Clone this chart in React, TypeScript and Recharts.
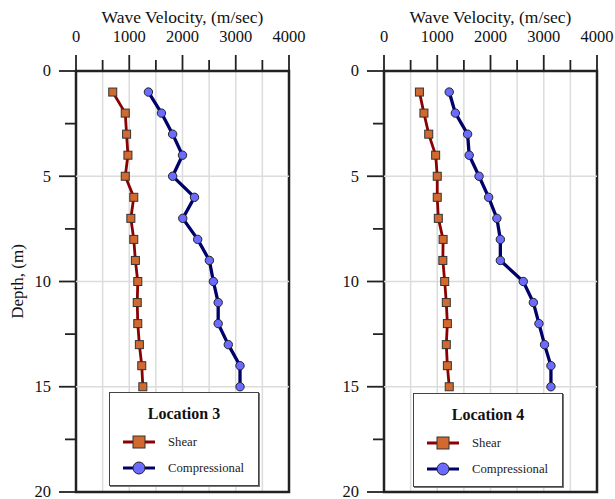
import React from 'react'
import {
  ScatterChart,
  Scatter,
  XAxis,
  YAxis,
  CartesianGrid,
  ReferenceLine,
  ReferenceArea,
} from 'recharts'

const FONT = 'Liberation Serif, Times New Roman, serif'

const depths = [1, 2, 3, 4, 5, 6, 7, 8, 9, 10, 11, 12, 13, 14, 15]

// Location 3
const shear3 = [690, 925, 950, 975, 925, 1085, 1030, 1085, 1115, 1160, 1150, 1160, 1190, 1235, 1255]
const comp3 = [1360, 1605, 1815, 2000, 1815, 2225, 2005, 2285, 2505, 2580, 2670, 2670, 2860, 3080, 3080]

// Location 4
const shear4 = [665, 750, 840, 970, 1000, 1000, 1020, 1110, 1105, 1140, 1170, 1190, 1170, 1190, 1225]
const comp4 = [1225, 1340, 1570, 1600, 1785, 1965, 2120, 2185, 2185, 2615, 2805, 2910, 3015, 3135, 3135]

const xTicks = [0, 500, 1000, 1500, 2000, 2500, 3000, 3500, 4000]
const yTicks = [0, 2.5, 5, 7.5, 10, 12.5, 15, 17.5, 20]
const gridDepths = [5, 10, 15]

const SHEAR_LINE = '#8b0000'
const SHEAR_FILL = '#d2692e'
const COMP_LINE = '#00006b'
const COMP_FILL = '#6b6bff'

function XTick({ x, y, payload }: any) {
  const major = payload.value % 1000 === 0
  return (
    <g>
      <line x1={x} x2={x} y1={y} y2={y - (major ? 16 : 11)} stroke="#222" strokeWidth={1.8} />
      {major && (
        <text x={x} y={y - 29} textAnchor="middle" fontSize={16.5} fontFamily={FONT} fill="#111">
          {payload.value}
        </text>
      )}
    </g>
  )
}

function YTick({ x, y, payload }: any) {
  const major = payload.value % 5 === 0
  return (
    <g>
      <line x1={x} x2={x - (major ? 17 : 11)} y1={y} y2={y} stroke="#222" strokeWidth={1.8} />
      {major && (
        <text x={x - 25} y={y} dy="0.33em" textAnchor="end" fontSize={16.5} fontFamily={FONT} fill="#111">
          {payload.value}
        </text>
      )}
    </g>
  )
}

const square = (props: any) => (
  <rect x={props.cx - 4} y={props.cy - 4} width={8} height={8} fill={SHEAR_FILL} stroke="#333" strokeWidth={1} />
)
const circle = (props: any) => (
  <circle cx={props.cx} cy={props.cy} r={4.2} fill={COMP_FILL} stroke="#222" strokeWidth={1} />
)

function LegendBox({ title, left, top }: { title: string; left: number; top: number }) {
  const row = (y: number, label: string, kind: 'sq' | 'ci') => (
    <div style={{ position: 'absolute', left: 0, top: y - 10, height: 20, width: 150 }}>
      <svg width={50} height={20} style={{ position: 'absolute', left: 11, top: 0 }}>
        <line x1={2} x2={34} y1={10} y2={10} stroke={kind === 'sq' ? SHEAR_LINE : COMP_LINE} strokeWidth={3} />
        {kind === 'sq' ? (
          <rect x={12} y={4} width={12} height={12} fill={SHEAR_FILL} stroke="#333" strokeWidth={1} />
        ) : (
          <circle cx={18} cy={10} r={6} fill={COMP_FILL} stroke="#222" strokeWidth={1} />
        )}
      </svg>
      <span style={{ position: 'absolute', left: 58, top: 2, fontSize: 12.7, fontFamily: FONT, color: '#222', lineHeight: '16px' }}>
        {label}
      </span>
    </div>
  )
  return (
    <div
      style={{
        position: 'absolute',
        left,
        top,
        width: 148,
        height: 92,
        background: '#fff',
        border: '1px solid #444',
        boxShadow: '1px 1px 0 #777',
      }}
    >
      <div
        style={{
          position: 'absolute',
          left: 0,
          width: 148,
          top: 11,
          textAlign: 'center',
          fontFamily: FONT,
          fontWeight: 'bold',
          fontSize: 16,
          lineHeight: '19px',
          color: '#111',
        }}
      >
        {title}
      </div>
      {row(49, 'Shear', 'sq')}
      {row(75, 'Compressional', 'ci')}
    </div>
  )
}

interface PanelProps {
  shear: number[]
  comp: number[]
  left: number
  width: number
  yWidth: number
  marginRight: number
  showYLabel: boolean
}

function Panel({ shear, comp, left, width, yWidth, marginRight, showYLabel }: PanelProps) {
  const shearData = depths.map((d, i) => ({ v: shear[i], d }))
  const compData = depths.map((d, i) => ({ v: comp[i], d }))
  return (
    <div style={{ position: 'absolute', left, top: 0 }}>
      <ScatterChart width={width} height={506} margin={{ top: 31, right: marginRight, bottom: 14, left: 0 }}>
        <CartesianGrid horizontal={false} stroke="#dcdcdc" strokeWidth={1.5} />
        {gridDepths.map((g) => (
          <ReferenceLine key={g} y={g} stroke="#dcdcdc" strokeWidth={1.5} />
        ))}
        <XAxis
          type="number"
          dataKey="v"
          orientation="top"
          domain={[0, 4000]}
          ticks={xTicks}
          interval={0}
          height={40}
          tickSize={0}
          tickMargin={0}
          axisLine={false}
          tick={<XTick />}
          label={{ value: 'Wave Velocity, (m/sec)', position: 'top', offset: 8, fontSize: 17.5, fontFamily: FONT, fill: '#111' }}
        />
        <YAxis
          type="number"
          dataKey="d"
          reversed
          domain={[0, 20]}
          ticks={yTicks}
          interval={0}
          width={yWidth}
          tickSize={0}
          tickMargin={0}
          axisLine={false}
          tick={<YTick />}
          label={
            showYLabel
              ? { value: 'Depth, (m)', angle: -90, position: 'insideLeft', offset: 17, fontSize: 17, fontFamily: FONT, fill: '#111', style: { textAnchor: 'middle' } }
              : undefined
          }
        />
        <ReferenceArea x1={0} x2={4000} y1={0} y2={20} fill="none" stroke="#222" strokeWidth={2.5} />
        <Scatter
          data={shearData}
          line={{ stroke: SHEAR_LINE, strokeWidth: 2.8 }}
          lineType="joint"
          shape={square}
          isAnimationActive={false}
        />
        <Scatter
          data={compData}
          line={{ stroke: COMP_LINE, strokeWidth: 3.3 }}
          lineType="joint"
          shape={circle}
          isAnimationActive={false}
        />
      </ScatterChart>
    </div>
  )
}

export default function App() {
  return (
    <div style={{ position: 'absolute', left: 0, top: 0, width: 615, height: 499, background: '#fff', overflow: 'hidden' }}>
      <Panel shear={shear3} comp={comp3} left={0} width={315} yWidth={76} marginRight={26} showYLabel />
      <Panel shear={shear4} comp={comp4} left={310} width={305} yWidth={74} marginRight={18} showYLabel={false} />
      <LegendBox title="Location 3" left={109} top={392} />
      <LegendBox title="Location 4" left={413} top={393} />
    </div>
  )
}
